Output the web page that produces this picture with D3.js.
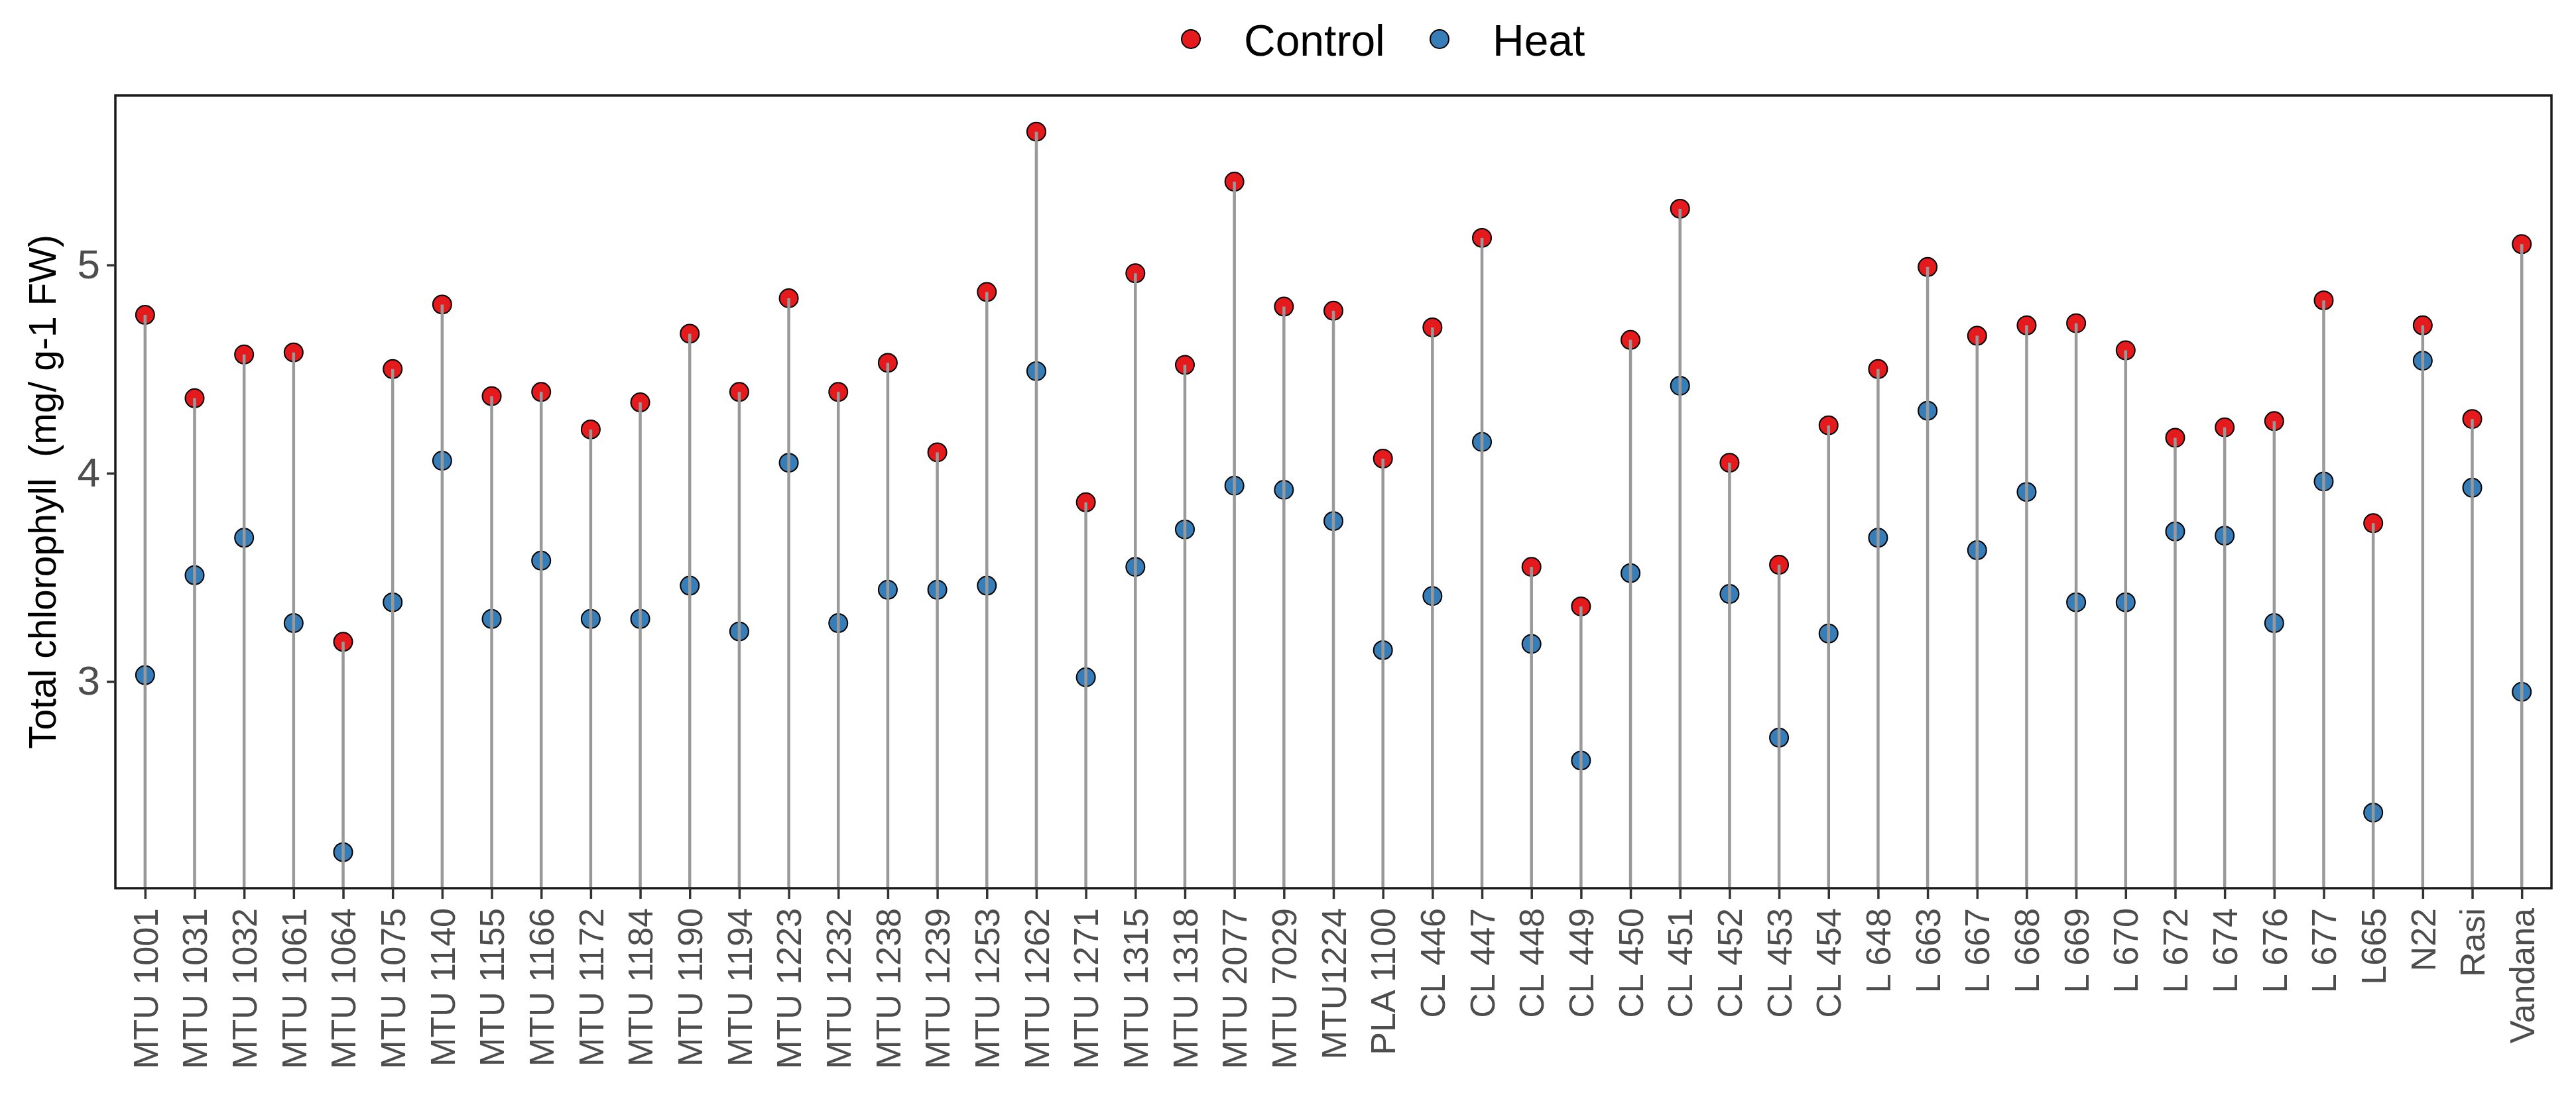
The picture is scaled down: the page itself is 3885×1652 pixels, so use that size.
<!DOCTYPE html>
<html>
<head>
<meta charset="utf-8">
<script src="https://cdn.jsdelivr.net/npm/d3@7"></script>
<style>
  body { margin: 0; background: #fff; }
  text { font-family: "Liberation Sans", Arial, sans-serif; }
</style>
</head>
<body>
<div id="chart"></div>
<script>
const genotypes = ['MTU 1001', 'MTU 1031', 'MTU 1032', 'MTU 1061', 'MTU 1064', 'MTU 1075', 'MTU 1140',
  'MTU 1155', 'MTU 1166', 'MTU 1172', 'MTU 1184', 'MTU 1190', 'MTU 1194', 'MTU 1223', 'MTU 1232',
  'MTU 1238', 'MTU 1239', 'MTU 1253', 'MTU 1262', 'MTU 1271', 'MTU 1315', 'MTU 1318', 'MTU 2077',
  'MTU 7029', 'MTU1224', 'PLA 1100', 'CL 446', 'CL 447', 'CL 448', 'CL 449', 'CL 450', 'CL 451',
  'CL 452', 'CL 453', 'CL 454', 'L 648', 'L 663', 'L 667', 'L 668', 'L 669', 'L 670', 'L 672',
  'L 674', 'L 676', 'L 677', 'L665', 'N22', 'Rasi', 'Vandana'];

const control = [4.76, 4.36, 4.57, 4.58, 3.19, 4.50, 4.81, 4.37, 4.39, 4.21, 4.34, 4.67, 4.39, 4.84, 4.39,
  4.53, 4.10, 4.87, 5.64, 3.86, 4.96, 4.52, 5.40, 4.80, 4.78, 4.07, 4.70, 5.13, 3.55, 3.36, 4.64, 5.27,
  4.05, 3.56, 4.23, 4.50, 4.99, 4.66, 4.71, 4.72, 4.59, 4.17, 4.22, 4.25, 4.83, 3.76, 4.71, 4.26, 5.10];

const heat = [3.03, 3.51, 3.69, 3.28, 2.18, 3.38, 4.06, 3.30, 3.58, 3.30, 3.30, 3.46, 3.24, 4.05, 3.28,
  3.44, 3.44, 3.46, 4.49, 3.02, 3.55, 3.73, 3.94, 3.92, 3.77, 3.15, 3.41, 4.15, 3.18, 2.62, 3.52, 4.42,
  3.42, 2.73, 3.23, 3.69, 4.30, 3.63, 3.91, 3.38, 3.38, 3.72, 3.70, 3.28, 3.96, 2.37, 4.54, 3.93, 2.95];

const yTicks = [3, 4, 5];
const seriesNames = ['Control', 'Heat'];
const seriesColors = ['#E41A1C', '#377EB8'];

const width = 3885;
const height = 1652;
const margin = { top: 144, right: 37, bottom: 312, left: 174 };

const svg = d3.select('#chart')
  .append('svg')
  .attr('width', width)
  .attr('height', height)
  .style('background', '#fff');

const x = d3.scalePoint()
  .domain(genotypes)
  .range([margin.left, width - margin.right])
  .padding(0.6);

const y = d3.scaleLinear()
  .domain([2.007, 5.814])
  .range([height - margin.bottom, margin.top]);

// points first, stems drawn over them (as in the original)
svg.append('g')
  .selectAll('circle')
  .data(genotypes)
  .join('circle')
    .attr('cx', d => x(d))
    .attr('cy', (d, i) => y(heat[i]))
    .attr('r', 14)
    .attr('fill', seriesColors[1])
    .attr('stroke', '#000')
    .attr('stroke-width', 2);

svg.append('g')
  .selectAll('circle')
  .data(genotypes)
  .join('circle')
    .attr('cx', d => x(d))
    .attr('cy', (d, i) => y(control[i]))
    .attr('r', 14)
    .attr('fill', seriesColors[0])
    .attr('stroke', '#000')
    .attr('stroke-width', 2);

svg.append('g')
  .attr('stroke', '#999999')
  .attr('stroke-width', 4.5)
  .selectAll('line')
  .data(genotypes)
  .join('line')
    .attr('x1', d => x(d))
    .attr('x2', d => x(d))
    .attr('y1', y.range()[0])
    .attr('y2', (d, i) => y(control[i]));

// panel border
svg.append('rect')
  .attr('x', margin.left)
  .attr('y', margin.top)
  .attr('width', width - margin.left - margin.right)
  .attr('height', height - margin.top - margin.bottom)
  .attr('fill', 'none')
  .attr('stroke', '#1a1a1a')
  .attr('stroke-width', 3.5);

function xAxis(g) {
  g.attr('transform', `translate(0,${height - margin.bottom})`)
    .call(d3.axisBottom(x).tickSize(16).tickSizeOuter(0))
    .call(g => g.select('.domain').remove())
    .call(g => g.selectAll('.tick line').attr('stroke', '#333').attr('stroke-width', 3.5));
  g.selectAll('.tick text')
    .attr('fill', '#4D4D4D')
    .attr('font-size', 52)
    .attr('transform', 'rotate(-90)')
    .attr('text-anchor', 'end')
    .attr('x', -30)
    .attr('y', 0)
    .attr('dy', '0.35em');
}

function yAxis(g) {
  g.attr('transform', `translate(${margin.left},0)`)
    .call(d3.axisLeft(y).tickValues(yTicks).tickFormat(d3.format('d')).tickSize(13).tickPadding(10))
    .call(g => g.select('.domain').remove())
    .call(g => g.selectAll('.tick line').attr('stroke', '#333').attr('stroke-width', 3.5));
  g.selectAll('.tick text')
    .attr('fill', '#4D4D4D')
    .attr('font-size', 62);
}

svg.append('g').call(xAxis);
svg.append('g').call(yAxis);

svg.append('text')
  .attr('transform', `translate(84,${(margin.top + height - margin.bottom) / 2}) rotate(-90)`)
  .attr('text-anchor', 'middle')
  .attr('font-size', 57)
  .attr('fill', '#000')
  .style('white-space', 'pre')
  .text('Total chlorophyll  (mg/ g-1 FW)');

// legend
const legendX = [1796, 2171];
const legend = svg.append('g');
seriesNames.forEach((name, i) => {
  legend.append('circle')
    .attr('cx', legendX[i])
    .attr('cy', 59)
    .attr('r', 14)
    .attr('fill', seriesColors[i])
    .attr('stroke', '#000')
    .attr('stroke-width', 2);
  legend.append('text')
    .attr('x', legendX[i] + 80)
    .attr('y', 84)
    .attr('font-size', 66)
    .attr('fill', '#000')
    .text(name);
});
</script>
</body>
</html>
